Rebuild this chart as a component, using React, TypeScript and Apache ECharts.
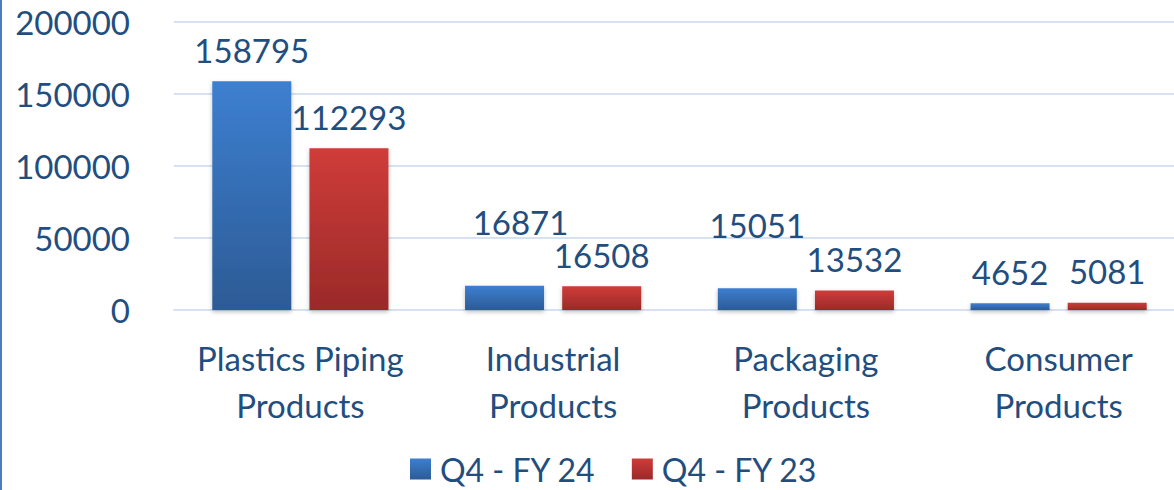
import React, { useEffect, useRef } from "react";
import * as echarts from "echarts";

const categories = ["Plastics Piping\nProducts", "Industrial\nProducts", "Packaging\nProducts", "Consumer\nProducts"];
const seriesNames = ["Q4 - FY 24", "Q4 - FY 23"];
const fy24 = [158795, 16871, 15051, 4652];
const fy23 = [112293, 16508, 13532, 5081];

const FONT = "Lato, 'Open Sans', sans-serif";
const TEXT = "#1f4e7f";
const FS = 33;

// label nudges (style only), as in the reference where some labels sit higher
const fy24LabelOffsets: Record<number, number[]> = { 1: [16, -32], 2: [0, -32] };

const blueGrad = new echarts.graphic.LinearGradient(0, 0, 0, 1, [
  { offset: 0, color: "#3d7fd0" },
  { offset: 1, color: "#2c5b95" },
]);
const redGrad = new echarts.graphic.LinearGradient(0, 0, 0, 1, [
  { offset: 0, color: "#cf3c39" },
  { offset: 1, color: "#9a2a29" },
]);

export default function App() {
  const ref = useRef<HTMLDivElement>(null);
  useEffect(() => {
    if (!ref.current) return;
    const chart = echarts.init(ref.current, undefined, { renderer: "svg" });
    const label = {
      show: true,
      position: "top",
      distance: 15,
      fontFamily: FONT,
      fontSize: FS,
      color: TEXT,
    };
    const shadow = {
      shadowColor: "rgba(0,0,0,0.25)",
      shadowBlur: 4,
      shadowOffsetY: 2,
    };
    chart.setOption({
      animation: false,
      textStyle: { fontFamily: FONT },
      grid: { left: 174, top: 22, width: 1011, height: 288, containLabel: false },
      legend: {
        bottom: 0,
        left: 405,
        itemWidth: 21,
        itemHeight: 21,
        itemGap: 36,
        icon: "rect",
        textStyle: { fontFamily: FONT, fontSize: 32, color: TEXT, padding: [0, 0, 0, 4] },
        data: seriesNames,
      },
      xAxis: {
        type: "category",
        data: categories,
        axisLine: { show: true, lineStyle: { color: "#d6e2f1", width: 2 } },
        axisTick: { show: false },
        axisLabel: {
          interval: 0,
          fontFamily: FONT,
          fontSize: FS,
          color: TEXT,
          lineHeight: 47,
          margin: 24,
        },
      },
      yAxis: {
        type: "value",
        min: 0,
        max: 200000,
        interval: 50000,
        axisLine: { show: false },
        axisTick: { show: false },
        splitLine: { lineStyle: { color: "#d6e2f1", width: 2 } },
        axisLabel: {
          fontFamily: FONT,
          fontSize: FS,
          color: TEXT,
          margin: 44,
          formatter: (v: number) => String(v),
        },
      },
      series: [
        {
          name: seriesNames[0],
          type: "bar",
          data: fy24.map((v, i) =>
            fy24LabelOffsets[i] ? { value: v, label: { offset: fy24LabelOffsets[i] } } : v
          ),
          barWidth: 79,
          barGap: "23%",
          itemStyle: { color: blueGrad, ...shadow },
          label,
        },
        {
          name: seriesNames[1],
          type: "bar",
          data: fy23,
          barWidth: 79,
          itemStyle: { color: redGrad, ...shadow },
          label,
        },
      ],
      graphic: [
        {
          type: "rect",
          left: 0,
          top: 0,
          shape: { width: 2, height: 490 },
          style: { fill: "#4a7ebf" },
        },
      ],
    });
    return () => chart.dispose();
  }, []);
  return (
    <div style={{ position: "absolute", left: 0, top: 0, width: 1174, height: 490, overflow: "hidden" }}>
      <div ref={ref} style={{ width: 1200, height: 490 }} />
    </div>
  );
}
